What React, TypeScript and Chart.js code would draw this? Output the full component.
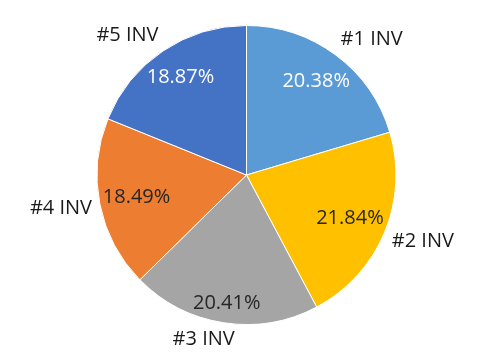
import React, { useEffect, useRef } from "react";
import { Chart, registerables } from "chart.js";

Chart.register(...registerables);

const categories = ["#1 INV", "#2 INV", "#3 INV", "#4 INV", "#5 INV"];
const shares = [20.38, 21.84, 20.41, 18.49, 18.87];
const sliceColors = ["#5B9BD5", "#FFC000", "#A5A5A5", "#ED7D31", "#4472C4"];
const percentColors = ["#FFFFFF", "#262626", "#262626", "#262626", "#FFFFFF"];

const FONT = '20px "Open Sans", "Noto Sans", sans-serif';

const labelPlugin = {
  id: "pieLabels",
  afterDatasetsDraw(chart: any, _args: any, opts: any) {
    const ctx = chart.ctx;
    const meta = chart.getDatasetMeta(0);
    const innerFrac: number[] = opts.innerFrac;
    ctx.save();
    ctx.font = FONT;
    ctx.textBaseline = "middle";
    ctx.textAlign = "center";
    const clamp = (v: number) => Math.max(-1, Math.min(1, v));
    meta.data.forEach((arc: any, i: number) => {
      const { x, y, startAngle, endAngle, outerRadius } = arc.getProps(
        ["x", "y", "startAngle", "endAngle", "outerRadius"],
        true
      );
      const mid = (startAngle + endAngle) / 2;
      const c = Math.cos(mid);
      const s = Math.sin(mid);
      // percentage inside
      const r1 = outerRadius * innerFrac[i];
      ctx.fillStyle = percentColors[i];
      ctx.fillText(shares[i].toFixed(2) + "%", x + c * r1, y + s * r1);
      // category outside
      const text = categories[i];
      const w = ctx.measureText(text).width;
      const h = 18;
      const r2 = outerRadius + 8;
      const px = x + c * r2;
      const py = y + s * r2;
      const cx = px + (w / 2) * clamp(c * 4);
      const cy = py + (h / 2) * clamp(s * 1.5);
      ctx.fillStyle = "#1a1a1a";
      ctx.fillText(text, cx, cy);
    });
    ctx.restore();
  },
};

export default function App() {
  const ref = useRef<HTMLCanvasElement>(null);
  useEffect(() => {
    if (!ref.current) return;
    const chart = new Chart(ref.current, {
      type: "pie",
      data: {
        labels: categories,
        datasets: [
          {
            data: shares,
            backgroundColor: sliceColors,
            borderColor: "#FFFFFF",
            borderWidth: 1,
            hoverOffset: 0,
          },
        ],
      },
      options: {
        responsive: false,
        animation: false,
        events: [],
        layout: { padding: { top: 25, bottom: 34, left: 96.5, right: 103.5 } },
        plugins: {
          legend: { display: false },
          tooltip: { enabled: false },
          pieLabels: { innerFrac: [0.78, 0.75, 0.87, 0.75, 0.79] },
        } as any,
      },
      plugins: [labelPlugin],
    });
    return () => chart.destroy();
  }, []);
  return (
    <div style={{ position: "fixed", left: 0, top: 0, width: 500, height: 359, background: "#fff" }}>
      <canvas ref={ref} width={500} height={359} style={{ width: 500, height: 359, display: "block" }} />
    </div>
  );
}
